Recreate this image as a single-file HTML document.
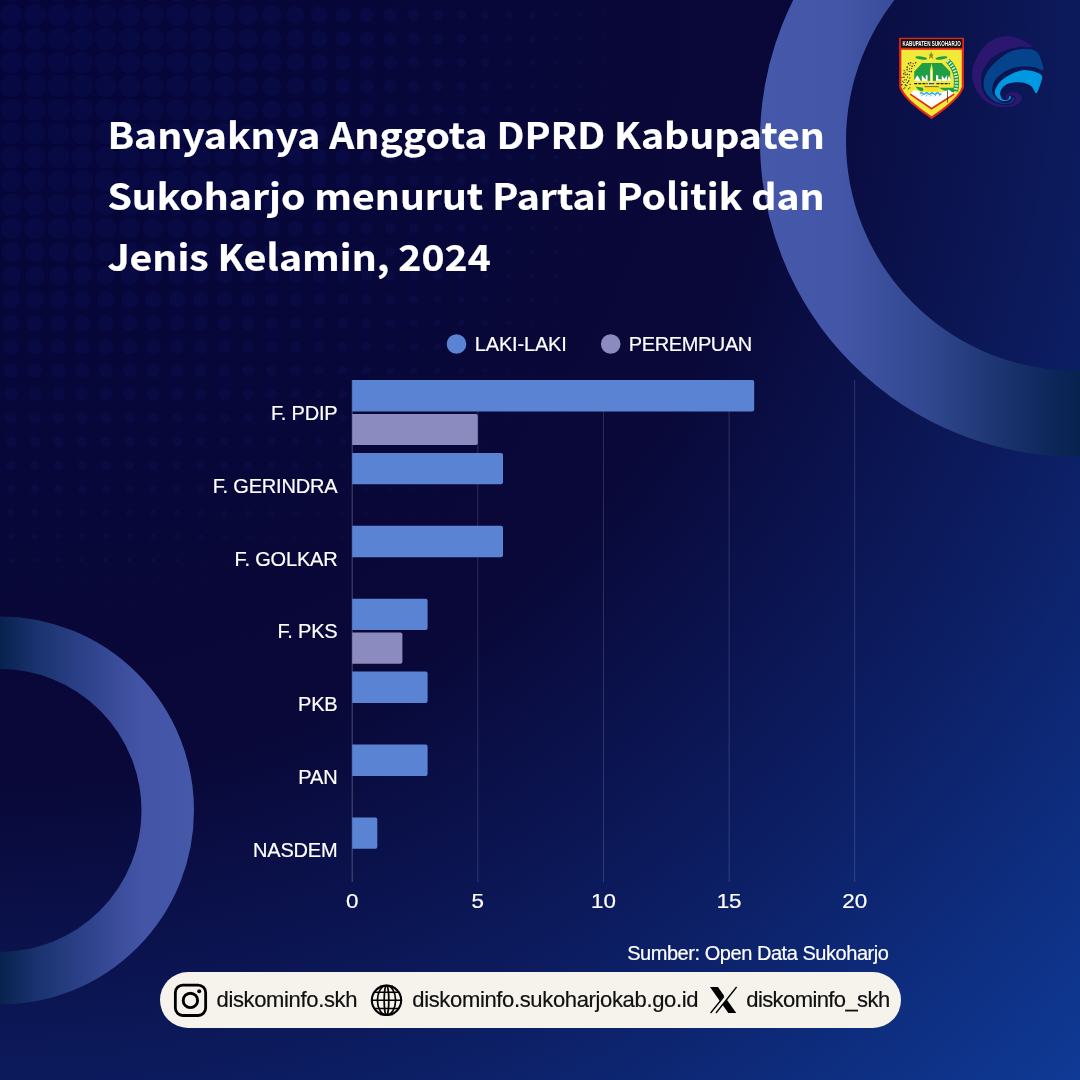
<!DOCTYPE html>
<html lang="id">
<head>
<meta charset="utf-8">
<title>Banyaknya Anggota DPRD Kabupaten Sukoharjo menurut Partai Politik dan Jenis Kelamin, 2024</title>
<style>
html,body{margin:0;padding:0;}
body{width:1080px;height:1080px;overflow:hidden;position:relative;background:#090838;font-family:"Liberation Sans",sans-serif;}
#bg{position:absolute;left:0;top:0;width:1080px;height:1080px;background:radial-gradient(circle 1527px at 0 0,#05053a 0%,#090838 51%,#0c1a5c 70.7%,#0f3a96 100%);}
svg{position:absolute;left:0;top:0;}
h1{position:absolute;left:107.4px;top:103.4px;transform:scaleY(0.931);transform-origin:0 0;margin:0;width:760px;color:#fff;font-family:"Noto Sans CJK JP","Liberation Sans",sans-serif;font-weight:700;-webkit-text-stroke:.25px #fff;font-size:39.15px;line-height:65.74px;letter-spacing:0;white-space:nowrap;}
.lab{font-family:"Liberation Sans",sans-serif;font-size:20px;fill:#fff;letter-spacing:-0.17px;stroke:#fff;stroke-width:.2px;}
.tick{font-family:"Liberation Sans",sans-serif;font-size:20px;fill:#fff;stroke:#fff;stroke-width:.2px;}
#src{position:absolute;right:191.5px;top:941px;color:#fff;font-size:20px;line-height:24px;letter-spacing:-0.45px;white-space:nowrap;-webkit-text-stroke:.2px #fff;}
.ft{position:absolute;top:987px;color:#111;font-size:22px;line-height:26px;white-space:nowrap;letter-spacing:-0.35px;-webkit-text-stroke:.2px #111;}
</style>
</head>
<body>
<div id="bg"></div>
<svg width="1080" height="1080" viewBox="0 0 1080 1080">
<defs>
<linearGradient id="gr1" gradientUnits="userSpaceOnUse" x1="760" y1="0" x2="1080" y2="0">
<stop offset="0" stop-color="#4558aa"/><stop offset=".25" stop-color="#4356a8"/><stop offset=".53" stop-color="#31478f"/><stop offset=".73" stop-color="#1e3673"/><stop offset=".92" stop-color="#0c2659"/><stop offset="1" stop-color="#08224f"/>
</linearGradient>
<linearGradient id="gr2" gradientUnits="userSpaceOnUse" x1="0" y1="0" x2="194" y2="0">
<stop offset="0" stop-color="#08224f"/><stop offset=".2" stop-color="#1b3370"/><stop offset=".46" stop-color="#2f438c"/><stop offset=".72" stop-color="#4354a6"/><stop offset="1" stop-color="#4558aa"/>
</linearGradient>
</defs>
<g fill="#3c64ff" fill-opacity=".05"><circle cx="11.1" cy="-8.7" r="11.0"/><circle cx="34.8" cy="-8.7" r="11.0"/><circle cx="58.5" cy="-8.7" r="11.0"/><circle cx="82.2" cy="-8.7" r="11.0"/><circle cx="105.9" cy="-8.7" r="11.0"/><circle cx="129.6" cy="-8.7" r="11.0"/><circle cx="153.3" cy="-8.7" r="11.0"/><circle cx="177.0" cy="-8.7" r="11.0"/><circle cx="200.7" cy="-8.7" r="11.0"/><circle cx="224.4" cy="-8.7" r="10.9"/><circle cx="248.1" cy="-8.7" r="10.3"/><circle cx="271.8" cy="-8.7" r="9.7"/><circle cx="295.5" cy="-8.7" r="9.1"/><circle cx="319.2" cy="-8.7" r="8.5"/><circle cx="342.9" cy="-8.7" r="7.9"/><circle cx="366.6" cy="-8.7" r="7.4"/><circle cx="390.3" cy="-8.7" r="6.8"/><circle cx="414.0" cy="-8.7" r="6.2"/><circle cx="437.7" cy="-8.7" r="5.6"/><circle cx="461.4" cy="-8.7" r="5.0"/><circle cx="485.1" cy="-8.7" r="4.4"/><circle cx="508.8" cy="-8.7" r="3.8"/><circle cx="532.5" cy="-8.7" r="3.2"/><circle cx="556.2" cy="-8.7" r="2.6"/><circle cx="579.9" cy="-8.7" r="2.0"/><circle cx="603.6" cy="-8.7" r="1.4"/><circle cx="627.3" cy="-8.7" r="0.8"/><circle cx="11.1" cy="15.0" r="11.0"/><circle cx="34.8" cy="15.0" r="11.0"/><circle cx="58.5" cy="15.0" r="11.0"/><circle cx="82.2" cy="15.0" r="11.0"/><circle cx="105.9" cy="15.0" r="11.0"/><circle cx="129.6" cy="15.0" r="11.0"/><circle cx="153.3" cy="15.0" r="11.0"/><circle cx="177.0" cy="15.0" r="11.0"/><circle cx="200.7" cy="15.0" r="11.0"/><circle cx="224.4" cy="15.0" r="10.9"/><circle cx="248.1" cy="15.0" r="10.3"/><circle cx="271.8" cy="15.0" r="9.7"/><circle cx="295.5" cy="15.0" r="9.1"/><circle cx="319.2" cy="15.0" r="8.5"/><circle cx="342.9" cy="15.0" r="7.9"/><circle cx="366.6" cy="15.0" r="7.4"/><circle cx="390.3" cy="15.0" r="6.8"/><circle cx="414.0" cy="15.0" r="6.2"/><circle cx="437.7" cy="15.0" r="5.6"/><circle cx="461.4" cy="15.0" r="5.0"/><circle cx="485.1" cy="15.0" r="4.4"/><circle cx="508.8" cy="15.0" r="3.8"/><circle cx="532.5" cy="15.0" r="3.2"/><circle cx="556.2" cy="15.0" r="2.6"/><circle cx="579.9" cy="15.0" r="2.0"/><circle cx="603.6" cy="15.0" r="1.4"/><circle cx="627.3" cy="15.0" r="0.8"/><circle cx="11.1" cy="38.7" r="11.0"/><circle cx="34.8" cy="38.7" r="11.0"/><circle cx="58.5" cy="38.7" r="11.0"/><circle cx="82.2" cy="38.7" r="11.0"/><circle cx="105.9" cy="38.7" r="11.0"/><circle cx="129.6" cy="38.7" r="11.0"/><circle cx="153.3" cy="38.7" r="11.0"/><circle cx="177.0" cy="38.7" r="11.0"/><circle cx="200.7" cy="38.7" r="11.0"/><circle cx="224.4" cy="38.7" r="10.9"/><circle cx="248.1" cy="38.7" r="10.3"/><circle cx="271.8" cy="38.7" r="9.7"/><circle cx="295.5" cy="38.7" r="9.1"/><circle cx="319.2" cy="38.7" r="8.5"/><circle cx="342.9" cy="38.7" r="7.9"/><circle cx="366.6" cy="38.7" r="7.3"/><circle cx="390.3" cy="38.7" r="6.7"/><circle cx="414.0" cy="38.7" r="6.2"/><circle cx="437.7" cy="38.7" r="5.6"/><circle cx="461.4" cy="38.7" r="5.0"/><circle cx="485.1" cy="38.7" r="4.4"/><circle cx="508.8" cy="38.7" r="3.8"/><circle cx="532.5" cy="38.7" r="3.2"/><circle cx="556.2" cy="38.7" r="2.6"/><circle cx="579.9" cy="38.7" r="2.0"/><circle cx="603.6" cy="38.7" r="1.4"/><circle cx="627.3" cy="38.7" r="0.8"/><circle cx="11.1" cy="62.4" r="11.0"/><circle cx="34.8" cy="62.4" r="11.0"/><circle cx="58.5" cy="62.4" r="11.0"/><circle cx="82.2" cy="62.4" r="11.0"/><circle cx="105.9" cy="62.4" r="11.0"/><circle cx="129.6" cy="62.4" r="11.0"/><circle cx="153.3" cy="62.4" r="11.0"/><circle cx="177.0" cy="62.4" r="11.0"/><circle cx="200.7" cy="62.4" r="11.0"/><circle cx="224.4" cy="62.4" r="10.8"/><circle cx="248.1" cy="62.4" r="10.3"/><circle cx="271.8" cy="62.4" r="9.7"/><circle cx="295.5" cy="62.4" r="9.1"/><circle cx="319.2" cy="62.4" r="8.5"/><circle cx="342.9" cy="62.4" r="7.9"/><circle cx="366.6" cy="62.4" r="7.3"/><circle cx="390.3" cy="62.4" r="6.7"/><circle cx="414.0" cy="62.4" r="6.1"/><circle cx="437.7" cy="62.4" r="5.5"/><circle cx="461.4" cy="62.4" r="4.9"/><circle cx="485.1" cy="62.4" r="4.3"/><circle cx="508.8" cy="62.4" r="3.8"/><circle cx="532.5" cy="62.4" r="3.2"/><circle cx="556.2" cy="62.4" r="2.6"/><circle cx="579.9" cy="62.4" r="2.0"/><circle cx="603.6" cy="62.4" r="1.4"/><circle cx="627.3" cy="62.4" r="0.8"/><circle cx="11.1" cy="86.1" r="11.0"/><circle cx="34.8" cy="86.1" r="11.0"/><circle cx="58.5" cy="86.1" r="11.0"/><circle cx="82.2" cy="86.1" r="11.0"/><circle cx="105.9" cy="86.1" r="11.0"/><circle cx="129.6" cy="86.1" r="11.0"/><circle cx="153.3" cy="86.1" r="11.0"/><circle cx="177.0" cy="86.1" r="11.0"/><circle cx="200.7" cy="86.1" r="11.0"/><circle cx="224.4" cy="86.1" r="10.7"/><circle cx="248.1" cy="86.1" r="10.2"/><circle cx="271.8" cy="86.1" r="9.6"/><circle cx="295.5" cy="86.1" r="9.0"/><circle cx="319.2" cy="86.1" r="8.4"/><circle cx="342.9" cy="86.1" r="7.8"/><circle cx="366.6" cy="86.1" r="7.3"/><circle cx="390.3" cy="86.1" r="6.7"/><circle cx="414.0" cy="86.1" r="6.1"/><circle cx="437.7" cy="86.1" r="5.5"/><circle cx="461.4" cy="86.1" r="4.9"/><circle cx="485.1" cy="86.1" r="4.3"/><circle cx="508.8" cy="86.1" r="3.7"/><circle cx="532.5" cy="86.1" r="3.1"/><circle cx="556.2" cy="86.1" r="2.5"/><circle cx="579.9" cy="86.1" r="1.9"/><circle cx="603.6" cy="86.1" r="1.3"/><circle cx="627.3" cy="86.1" r="0.8"/><circle cx="11.1" cy="109.8" r="11.0"/><circle cx="34.8" cy="109.8" r="11.0"/><circle cx="58.5" cy="109.8" r="11.0"/><circle cx="82.2" cy="109.8" r="11.0"/><circle cx="105.9" cy="109.8" r="11.0"/><circle cx="129.6" cy="109.8" r="11.0"/><circle cx="153.3" cy="109.8" r="11.0"/><circle cx="177.0" cy="109.8" r="11.0"/><circle cx="200.7" cy="109.8" r="11.0"/><circle cx="224.4" cy="109.8" r="10.6"/><circle cx="248.1" cy="109.8" r="10.0"/><circle cx="271.8" cy="109.8" r="9.5"/><circle cx="295.5" cy="109.8" r="8.9"/><circle cx="319.2" cy="109.8" r="8.3"/><circle cx="342.9" cy="109.8" r="7.8"/><circle cx="366.6" cy="109.8" r="7.2"/><circle cx="390.3" cy="109.8" r="6.6"/><circle cx="414.0" cy="109.8" r="6.0"/><circle cx="437.7" cy="109.8" r="5.4"/><circle cx="461.4" cy="109.8" r="4.8"/><circle cx="485.1" cy="109.8" r="4.3"/><circle cx="508.8" cy="109.8" r="3.7"/><circle cx="532.5" cy="109.8" r="3.1"/><circle cx="556.2" cy="109.8" r="2.5"/><circle cx="579.9" cy="109.8" r="1.9"/><circle cx="603.6" cy="109.8" r="1.3"/><circle cx="627.3" cy="109.8" r="0.7"/><circle cx="11.1" cy="133.5" r="11.0"/><circle cx="34.8" cy="133.5" r="11.0"/><circle cx="58.5" cy="133.5" r="11.0"/><circle cx="82.2" cy="133.5" r="11.0"/><circle cx="105.9" cy="133.5" r="11.0"/><circle cx="129.6" cy="133.5" r="11.0"/><circle cx="153.3" cy="133.5" r="11.0"/><circle cx="177.0" cy="133.5" r="11.0"/><circle cx="200.7" cy="133.5" r="10.9"/><circle cx="224.4" cy="133.5" r="10.4"/><circle cx="248.1" cy="133.5" r="9.8"/><circle cx="271.8" cy="133.5" r="9.3"/><circle cx="295.5" cy="133.5" r="8.7"/><circle cx="319.2" cy="133.5" r="8.2"/><circle cx="342.9" cy="133.5" r="7.6"/><circle cx="366.6" cy="133.5" r="7.1"/><circle cx="390.3" cy="133.5" r="6.5"/><circle cx="414.0" cy="133.5" r="5.9"/><circle cx="437.7" cy="133.5" r="5.3"/><circle cx="461.4" cy="133.5" r="4.8"/><circle cx="485.1" cy="133.5" r="4.2"/><circle cx="508.8" cy="133.5" r="3.6"/><circle cx="532.5" cy="133.5" r="3.0"/><circle cx="556.2" cy="133.5" r="2.4"/><circle cx="579.9" cy="133.5" r="1.8"/><circle cx="603.6" cy="133.5" r="1.3"/><circle cx="627.3" cy="133.5" r="0.7"/><circle cx="11.1" cy="157.2" r="11.0"/><circle cx="34.8" cy="157.2" r="11.0"/><circle cx="58.5" cy="157.2" r="11.0"/><circle cx="82.2" cy="157.2" r="11.0"/><circle cx="105.9" cy="157.2" r="11.0"/><circle cx="129.6" cy="157.2" r="11.0"/><circle cx="153.3" cy="157.2" r="11.0"/><circle cx="177.0" cy="157.2" r="11.0"/><circle cx="200.7" cy="157.2" r="10.6"/><circle cx="224.4" cy="157.2" r="10.1"/><circle cx="248.1" cy="157.2" r="9.6"/><circle cx="271.8" cy="157.2" r="9.1"/><circle cx="295.5" cy="157.2" r="8.6"/><circle cx="319.2" cy="157.2" r="8.0"/><circle cx="342.9" cy="157.2" r="7.5"/><circle cx="366.6" cy="157.2" r="6.9"/><circle cx="390.3" cy="157.2" r="6.4"/><circle cx="414.0" cy="157.2" r="5.8"/><circle cx="437.7" cy="157.2" r="5.2"/><circle cx="461.4" cy="157.2" r="4.7"/><circle cx="485.1" cy="157.2" r="4.1"/><circle cx="508.8" cy="157.2" r="3.5"/><circle cx="532.5" cy="157.2" r="2.9"/><circle cx="556.2" cy="157.2" r="2.4"/><circle cx="579.9" cy="157.2" r="1.8"/><circle cx="603.6" cy="157.2" r="1.2"/><circle cx="627.3" cy="157.2" r="0.6"/><circle cx="11.1" cy="180.9" r="11.0"/><circle cx="34.8" cy="180.9" r="11.0"/><circle cx="58.5" cy="180.9" r="11.0"/><circle cx="82.2" cy="180.9" r="11.0"/><circle cx="105.9" cy="180.9" r="11.0"/><circle cx="129.6" cy="180.9" r="11.0"/><circle cx="153.3" cy="180.9" r="11.0"/><circle cx="177.0" cy="180.9" r="10.6"/><circle cx="200.7" cy="180.9" r="10.2"/><circle cx="224.4" cy="180.9" r="9.8"/><circle cx="248.1" cy="180.9" r="9.3"/><circle cx="271.8" cy="180.9" r="8.8"/><circle cx="295.5" cy="180.9" r="8.3"/><circle cx="319.2" cy="180.9" r="7.8"/><circle cx="342.9" cy="180.9" r="7.3"/><circle cx="366.6" cy="180.9" r="6.8"/><circle cx="390.3" cy="180.9" r="6.2"/><circle cx="414.0" cy="180.9" r="5.7"/><circle cx="437.7" cy="180.9" r="5.1"/><circle cx="461.4" cy="180.9" r="4.5"/><circle cx="485.1" cy="180.9" r="4.0"/><circle cx="508.8" cy="180.9" r="3.4"/><circle cx="532.5" cy="180.9" r="2.8"/><circle cx="556.2" cy="180.9" r="2.3"/><circle cx="579.9" cy="180.9" r="1.7"/><circle cx="603.6" cy="180.9" r="1.1"/><circle cx="627.3" cy="180.9" r="0.5"/><circle cx="11.1" cy="204.6" r="11.0"/><circle cx="34.8" cy="204.6" r="11.0"/><circle cx="58.5" cy="204.6" r="11.0"/><circle cx="82.2" cy="204.6" r="11.0"/><circle cx="105.9" cy="204.6" r="11.0"/><circle cx="129.6" cy="204.6" r="10.8"/><circle cx="153.3" cy="204.6" r="10.5"/><circle cx="177.0" cy="204.6" r="10.2"/><circle cx="200.7" cy="204.6" r="9.8"/><circle cx="224.4" cy="204.6" r="9.4"/><circle cx="248.1" cy="204.6" r="9.0"/><circle cx="271.8" cy="204.6" r="8.6"/><circle cx="295.5" cy="204.6" r="8.1"/><circle cx="319.2" cy="204.6" r="7.6"/><circle cx="342.9" cy="204.6" r="7.1"/><circle cx="366.6" cy="204.6" r="6.5"/><circle cx="390.3" cy="204.6" r="6.0"/><circle cx="414.0" cy="204.6" r="5.5"/><circle cx="437.7" cy="204.6" r="4.9"/><circle cx="461.4" cy="204.6" r="4.4"/><circle cx="485.1" cy="204.6" r="3.8"/><circle cx="508.8" cy="204.6" r="3.3"/><circle cx="532.5" cy="204.6" r="2.7"/><circle cx="556.2" cy="204.6" r="2.1"/><circle cx="579.9" cy="204.6" r="1.6"/><circle cx="603.6" cy="204.6" r="1.0"/><circle cx="627.3" cy="204.6" r="0.4"/><circle cx="11.1" cy="228.3" r="10.8"/><circle cx="34.8" cy="228.3" r="10.8"/><circle cx="58.5" cy="228.3" r="10.8"/><circle cx="82.2" cy="228.3" r="10.7"/><circle cx="105.9" cy="228.3" r="10.5"/><circle cx="129.6" cy="228.3" r="10.3"/><circle cx="153.3" cy="228.3" r="10.1"/><circle cx="177.0" cy="228.3" r="9.8"/><circle cx="200.7" cy="228.3" r="9.4"/><circle cx="224.4" cy="228.3" r="9.1"/><circle cx="248.1" cy="228.3" r="8.7"/><circle cx="271.8" cy="228.3" r="8.2"/><circle cx="295.5" cy="228.3" r="7.8"/><circle cx="319.2" cy="228.3" r="7.3"/><circle cx="342.9" cy="228.3" r="6.8"/><circle cx="366.6" cy="228.3" r="6.3"/><circle cx="390.3" cy="228.3" r="5.8"/><circle cx="414.0" cy="228.3" r="5.3"/><circle cx="437.7" cy="228.3" r="4.7"/><circle cx="461.4" cy="228.3" r="4.2"/><circle cx="485.1" cy="228.3" r="3.7"/><circle cx="508.8" cy="228.3" r="3.1"/><circle cx="532.5" cy="228.3" r="2.6"/><circle cx="556.2" cy="228.3" r="2.0"/><circle cx="579.9" cy="228.3" r="1.4"/><circle cx="603.6" cy="228.3" r="0.9"/><circle cx="11.1" cy="252.0" r="10.2"/><circle cx="34.8" cy="252.0" r="10.2"/><circle cx="58.5" cy="252.0" r="10.2"/><circle cx="82.2" cy="252.0" r="10.1"/><circle cx="105.9" cy="252.0" r="10.0"/><circle cx="129.6" cy="252.0" r="9.8"/><circle cx="153.3" cy="252.0" r="9.6"/><circle cx="177.0" cy="252.0" r="9.3"/><circle cx="200.7" cy="252.0" r="9.0"/><circle cx="224.4" cy="252.0" r="8.6"/><circle cx="248.1" cy="252.0" r="8.3"/><circle cx="271.8" cy="252.0" r="7.9"/><circle cx="295.5" cy="252.0" r="7.4"/><circle cx="319.2" cy="252.0" r="7.0"/><circle cx="342.9" cy="252.0" r="6.5"/><circle cx="366.6" cy="252.0" r="6.1"/><circle cx="390.3" cy="252.0" r="5.6"/><circle cx="414.0" cy="252.0" r="5.0"/><circle cx="437.7" cy="252.0" r="4.5"/><circle cx="461.4" cy="252.0" r="4.0"/><circle cx="485.1" cy="252.0" r="3.5"/><circle cx="508.8" cy="252.0" r="2.9"/><circle cx="532.5" cy="252.0" r="2.4"/><circle cx="556.2" cy="252.0" r="1.8"/><circle cx="579.9" cy="252.0" r="1.3"/><circle cx="603.6" cy="252.0" r="0.7"/><circle cx="11.1" cy="275.7" r="9.6"/><circle cx="34.8" cy="275.7" r="9.6"/><circle cx="58.5" cy="275.7" r="9.6"/><circle cx="82.2" cy="275.7" r="9.5"/><circle cx="105.9" cy="275.7" r="9.4"/><circle cx="129.6" cy="275.7" r="9.2"/><circle cx="153.3" cy="275.7" r="9.0"/><circle cx="177.0" cy="275.7" r="8.8"/><circle cx="200.7" cy="275.7" r="8.5"/><circle cx="224.4" cy="275.7" r="8.2"/><circle cx="248.1" cy="275.7" r="7.9"/><circle cx="271.8" cy="275.7" r="7.5"/><circle cx="295.5" cy="275.7" r="7.1"/><circle cx="319.2" cy="275.7" r="6.7"/><circle cx="342.9" cy="275.7" r="6.2"/><circle cx="366.6" cy="275.7" r="5.8"/><circle cx="390.3" cy="275.7" r="5.3"/><circle cx="414.0" cy="275.7" r="4.8"/><circle cx="437.7" cy="275.7" r="4.3"/><circle cx="461.4" cy="275.7" r="3.8"/><circle cx="485.1" cy="275.7" r="3.3"/><circle cx="508.8" cy="275.7" r="2.7"/><circle cx="532.5" cy="275.7" r="2.2"/><circle cx="556.2" cy="275.7" r="1.7"/><circle cx="579.9" cy="275.7" r="1.1"/><circle cx="603.6" cy="275.7" r="0.6"/><circle cx="11.1" cy="299.4" r="9.0"/><circle cx="34.8" cy="299.4" r="9.0"/><circle cx="58.5" cy="299.4" r="9.0"/><circle cx="82.2" cy="299.4" r="8.9"/><circle cx="105.9" cy="299.4" r="8.8"/><circle cx="129.6" cy="299.4" r="8.7"/><circle cx="153.3" cy="299.4" r="8.5"/><circle cx="177.0" cy="299.4" r="8.3"/><circle cx="200.7" cy="299.4" r="8.0"/><circle cx="224.4" cy="299.4" r="7.8"/><circle cx="248.1" cy="299.4" r="7.4"/><circle cx="271.8" cy="299.4" r="7.1"/><circle cx="295.5" cy="299.4" r="6.7"/><circle cx="319.2" cy="299.4" r="6.3"/><circle cx="342.9" cy="299.4" r="5.9"/><circle cx="366.6" cy="299.4" r="5.4"/><circle cx="390.3" cy="299.4" r="5.0"/><circle cx="414.0" cy="299.4" r="4.5"/><circle cx="437.7" cy="299.4" r="4.0"/><circle cx="461.4" cy="299.4" r="3.5"/><circle cx="485.1" cy="299.4" r="3.0"/><circle cx="508.8" cy="299.4" r="2.5"/><circle cx="532.5" cy="299.4" r="2.0"/><circle cx="556.2" cy="299.4" r="1.5"/><circle cx="579.9" cy="299.4" r="0.9"/><circle cx="11.1" cy="323.1" r="8.4"/><circle cx="34.8" cy="323.1" r="8.4"/><circle cx="58.5" cy="323.1" r="8.4"/><circle cx="82.2" cy="323.1" r="8.3"/><circle cx="105.9" cy="323.1" r="8.3"/><circle cx="129.6" cy="323.1" r="8.1"/><circle cx="153.3" cy="323.1" r="8.0"/><circle cx="177.0" cy="323.1" r="7.8"/><circle cx="200.7" cy="323.1" r="7.5"/><circle cx="224.4" cy="323.1" r="7.3"/><circle cx="248.1" cy="323.1" r="7.0"/><circle cx="271.8" cy="323.1" r="6.6"/><circle cx="295.5" cy="323.1" r="6.3"/><circle cx="319.2" cy="323.1" r="5.9"/><circle cx="342.9" cy="323.1" r="5.5"/><circle cx="366.6" cy="323.1" r="5.1"/><circle cx="390.3" cy="323.1" r="4.7"/><circle cx="414.0" cy="323.1" r="4.2"/><circle cx="437.7" cy="323.1" r="3.7"/><circle cx="461.4" cy="323.1" r="3.3"/><circle cx="485.1" cy="323.1" r="2.8"/><circle cx="508.8" cy="323.1" r="2.3"/><circle cx="532.5" cy="323.1" r="1.8"/><circle cx="556.2" cy="323.1" r="1.2"/><circle cx="579.9" cy="323.1" r="0.7"/><circle cx="11.1" cy="346.8" r="7.9"/><circle cx="34.8" cy="346.8" r="7.8"/><circle cx="58.5" cy="346.8" r="7.8"/><circle cx="82.2" cy="346.8" r="7.8"/><circle cx="105.9" cy="346.8" r="7.7"/><circle cx="129.6" cy="346.8" r="7.6"/><circle cx="153.3" cy="346.8" r="7.4"/><circle cx="177.0" cy="346.8" r="7.2"/><circle cx="200.7" cy="346.8" r="7.0"/><circle cx="224.4" cy="346.8" r="6.8"/><circle cx="248.1" cy="346.8" r="6.5"/><circle cx="271.8" cy="346.8" r="6.2"/><circle cx="295.5" cy="346.8" r="5.9"/><circle cx="319.2" cy="346.8" r="5.5"/><circle cx="342.9" cy="346.8" r="5.1"/><circle cx="366.6" cy="346.8" r="4.7"/><circle cx="390.3" cy="346.8" r="4.3"/><circle cx="414.0" cy="346.8" r="3.9"/><circle cx="437.7" cy="346.8" r="3.4"/><circle cx="461.4" cy="346.8" r="3.0"/><circle cx="485.1" cy="346.8" r="2.5"/><circle cx="508.8" cy="346.8" r="2.0"/><circle cx="532.5" cy="346.8" r="1.5"/><circle cx="556.2" cy="346.8" r="1.0"/><circle cx="579.9" cy="346.8" r="0.5"/><circle cx="11.1" cy="370.5" r="7.3"/><circle cx="34.8" cy="370.5" r="7.2"/><circle cx="58.5" cy="370.5" r="7.2"/><circle cx="82.2" cy="370.5" r="7.2"/><circle cx="105.9" cy="370.5" r="7.1"/><circle cx="129.6" cy="370.5" r="7.0"/><circle cx="153.3" cy="370.5" r="6.9"/><circle cx="177.0" cy="370.5" r="6.7"/><circle cx="200.7" cy="370.5" r="6.5"/><circle cx="224.4" cy="370.5" r="6.3"/><circle cx="248.1" cy="370.5" r="6.0"/><circle cx="271.8" cy="370.5" r="5.7"/><circle cx="295.5" cy="370.5" r="5.4"/><circle cx="319.2" cy="370.5" r="5.1"/><circle cx="342.9" cy="370.5" r="4.7"/><circle cx="366.6" cy="370.5" r="4.3"/><circle cx="390.3" cy="370.5" r="3.9"/><circle cx="414.0" cy="370.5" r="3.5"/><circle cx="437.7" cy="370.5" r="3.1"/><circle cx="461.4" cy="370.5" r="2.6"/><circle cx="485.1" cy="370.5" r="2.2"/><circle cx="508.8" cy="370.5" r="1.7"/><circle cx="532.5" cy="370.5" r="1.2"/><circle cx="556.2" cy="370.5" r="0.7"/><circle cx="11.1" cy="394.2" r="6.7"/><circle cx="34.8" cy="394.2" r="6.7"/><circle cx="58.5" cy="394.2" r="6.6"/><circle cx="82.2" cy="394.2" r="6.6"/><circle cx="105.9" cy="394.2" r="6.5"/><circle cx="129.6" cy="394.2" r="6.4"/><circle cx="153.3" cy="394.2" r="6.3"/><circle cx="177.0" cy="394.2" r="6.1"/><circle cx="200.7" cy="394.2" r="6.0"/><circle cx="224.4" cy="394.2" r="5.8"/><circle cx="248.1" cy="394.2" r="5.5"/><circle cx="271.8" cy="394.2" r="5.2"/><circle cx="295.5" cy="394.2" r="5.0"/><circle cx="319.2" cy="394.2" r="4.6"/><circle cx="342.9" cy="394.2" r="4.3"/><circle cx="366.6" cy="394.2" r="3.9"/><circle cx="390.3" cy="394.2" r="3.6"/><circle cx="414.0" cy="394.2" r="3.2"/><circle cx="437.7" cy="394.2" r="2.7"/><circle cx="461.4" cy="394.2" r="2.3"/><circle cx="485.1" cy="394.2" r="1.9"/><circle cx="508.8" cy="394.2" r="1.4"/><circle cx="532.5" cy="394.2" r="0.9"/><circle cx="556.2" cy="394.2" r="0.5"/><circle cx="11.1" cy="417.9" r="6.1"/><circle cx="34.8" cy="417.9" r="6.1"/><circle cx="58.5" cy="417.9" r="6.0"/><circle cx="82.2" cy="417.9" r="6.0"/><circle cx="105.9" cy="417.9" r="5.9"/><circle cx="129.6" cy="417.9" r="5.8"/><circle cx="153.3" cy="417.9" r="5.7"/><circle cx="177.0" cy="417.9" r="5.6"/><circle cx="200.7" cy="417.9" r="5.4"/><circle cx="224.4" cy="417.9" r="5.2"/><circle cx="248.1" cy="417.9" r="5.0"/><circle cx="271.8" cy="417.9" r="4.8"/><circle cx="295.5" cy="417.9" r="4.5"/><circle cx="319.2" cy="417.9" r="4.2"/><circle cx="342.9" cy="417.9" r="3.9"/><circle cx="366.6" cy="417.9" r="3.5"/><circle cx="390.3" cy="417.9" r="3.2"/><circle cx="414.0" cy="417.9" r="2.8"/><circle cx="437.7" cy="417.9" r="2.4"/><circle cx="461.4" cy="417.9" r="2.0"/><circle cx="485.1" cy="417.9" r="1.5"/><circle cx="508.8" cy="417.9" r="1.1"/><circle cx="532.5" cy="417.9" r="0.6"/><circle cx="11.1" cy="441.6" r="5.5"/><circle cx="34.8" cy="441.6" r="5.5"/><circle cx="58.5" cy="441.6" r="5.4"/><circle cx="82.2" cy="441.6" r="5.4"/><circle cx="105.9" cy="441.6" r="5.3"/><circle cx="129.6" cy="441.6" r="5.3"/><circle cx="153.3" cy="441.6" r="5.2"/><circle cx="177.0" cy="441.6" r="5.0"/><circle cx="200.7" cy="441.6" r="4.9"/><circle cx="224.4" cy="441.6" r="4.7"/><circle cx="248.1" cy="441.6" r="4.5"/><circle cx="271.8" cy="441.6" r="4.2"/><circle cx="295.5" cy="441.6" r="4.0"/><circle cx="319.2" cy="441.6" r="3.7"/><circle cx="342.9" cy="441.6" r="3.4"/><circle cx="366.6" cy="441.6" r="3.1"/><circle cx="390.3" cy="441.6" r="2.7"/><circle cx="414.0" cy="441.6" r="2.4"/><circle cx="437.7" cy="441.6" r="2.0"/><circle cx="461.4" cy="441.6" r="1.6"/><circle cx="485.1" cy="441.6" r="1.2"/><circle cx="508.8" cy="441.6" r="0.7"/><circle cx="11.1" cy="465.3" r="4.9"/><circle cx="34.8" cy="465.3" r="4.9"/><circle cx="58.5" cy="465.3" r="4.8"/><circle cx="82.2" cy="465.3" r="4.8"/><circle cx="105.9" cy="465.3" r="4.8"/><circle cx="129.6" cy="465.3" r="4.7"/><circle cx="153.3" cy="465.3" r="4.6"/><circle cx="177.0" cy="465.3" r="4.5"/><circle cx="200.7" cy="465.3" r="4.3"/><circle cx="224.4" cy="465.3" r="4.1"/><circle cx="248.1" cy="465.3" r="4.0"/><circle cx="271.8" cy="465.3" r="3.7"/><circle cx="295.5" cy="465.3" r="3.5"/><circle cx="319.2" cy="465.3" r="3.2"/><circle cx="342.9" cy="465.3" r="2.9"/><circle cx="366.6" cy="465.3" r="2.6"/><circle cx="390.3" cy="465.3" r="2.3"/><circle cx="414.0" cy="465.3" r="1.9"/><circle cx="437.7" cy="465.3" r="1.6"/><circle cx="461.4" cy="465.3" r="1.2"/><circle cx="485.1" cy="465.3" r="0.8"/><circle cx="11.1" cy="489.0" r="4.3"/><circle cx="34.8" cy="489.0" r="4.3"/><circle cx="58.5" cy="489.0" r="4.3"/><circle cx="82.2" cy="489.0" r="4.2"/><circle cx="105.9" cy="489.0" r="4.2"/><circle cx="129.6" cy="489.0" r="4.1"/><circle cx="153.3" cy="489.0" r="4.0"/><circle cx="177.0" cy="489.0" r="3.9"/><circle cx="200.7" cy="489.0" r="3.8"/><circle cx="224.4" cy="489.0" r="3.6"/><circle cx="248.1" cy="489.0" r="3.4"/><circle cx="271.8" cy="489.0" r="3.2"/><circle cx="295.5" cy="489.0" r="3.0"/><circle cx="319.2" cy="489.0" r="2.7"/><circle cx="342.9" cy="489.0" r="2.5"/><circle cx="366.6" cy="489.0" r="2.2"/><circle cx="390.3" cy="489.0" r="1.8"/><circle cx="414.0" cy="489.0" r="1.5"/><circle cx="437.7" cy="489.0" r="1.2"/><circle cx="461.4" cy="489.0" r="0.8"/><circle cx="485.1" cy="489.0" r="0.4"/><circle cx="11.1" cy="512.7" r="3.7"/><circle cx="34.8" cy="512.7" r="3.7"/><circle cx="58.5" cy="512.7" r="3.7"/><circle cx="82.2" cy="512.7" r="3.6"/><circle cx="105.9" cy="512.7" r="3.6"/><circle cx="129.6" cy="512.7" r="3.5"/><circle cx="153.3" cy="512.7" r="3.4"/><circle cx="177.0" cy="512.7" r="3.3"/><circle cx="200.7" cy="512.7" r="3.2"/><circle cx="224.4" cy="512.7" r="3.0"/><circle cx="248.1" cy="512.7" r="2.9"/><circle cx="271.8" cy="512.7" r="2.7"/><circle cx="295.5" cy="512.7" r="2.5"/><circle cx="319.2" cy="512.7" r="2.2"/><circle cx="342.9" cy="512.7" r="2.0"/><circle cx="366.6" cy="512.7" r="1.7"/><circle cx="390.3" cy="512.7" r="1.4"/><circle cx="414.0" cy="512.7" r="1.1"/><circle cx="437.7" cy="512.7" r="0.7"/><circle cx="11.1" cy="536.4" r="3.1"/><circle cx="34.8" cy="536.4" r="3.1"/><circle cx="58.5" cy="536.4" r="3.1"/><circle cx="82.2" cy="536.4" r="3.0"/><circle cx="105.9" cy="536.4" r="3.0"/><circle cx="129.6" cy="536.4" r="2.9"/><circle cx="153.3" cy="536.4" r="2.9"/><circle cx="177.0" cy="536.4" r="2.8"/><circle cx="200.7" cy="536.4" r="2.6"/><circle cx="224.4" cy="536.4" r="2.5"/><circle cx="248.1" cy="536.4" r="2.3"/><circle cx="271.8" cy="536.4" r="2.1"/><circle cx="295.5" cy="536.4" r="1.9"/><circle cx="319.2" cy="536.4" r="1.7"/><circle cx="342.9" cy="536.4" r="1.5"/><circle cx="366.6" cy="536.4" r="1.2"/><circle cx="390.3" cy="536.4" r="0.9"/><circle cx="414.0" cy="536.4" r="0.6"/><circle cx="11.1" cy="560.1" r="2.5"/><circle cx="34.8" cy="560.1" r="2.5"/><circle cx="58.5" cy="560.1" r="2.5"/><circle cx="82.2" cy="560.1" r="2.4"/><circle cx="105.9" cy="560.1" r="2.4"/><circle cx="129.6" cy="560.1" r="2.3"/><circle cx="153.3" cy="560.1" r="2.3"/><circle cx="177.0" cy="560.1" r="2.2"/><circle cx="200.7" cy="560.1" r="2.1"/><circle cx="224.4" cy="560.1" r="1.9"/><circle cx="248.1" cy="560.1" r="1.8"/><circle cx="271.8" cy="560.1" r="1.6"/><circle cx="295.5" cy="560.1" r="1.4"/><circle cx="319.2" cy="560.1" r="1.2"/><circle cx="342.9" cy="560.1" r="1.0"/><circle cx="366.6" cy="560.1" r="0.7"/><circle cx="390.3" cy="560.1" r="0.4"/><circle cx="11.1" cy="583.8" r="1.9"/><circle cx="34.8" cy="583.8" r="1.9"/><circle cx="58.5" cy="583.8" r="1.9"/><circle cx="82.2" cy="583.8" r="1.8"/><circle cx="105.9" cy="583.8" r="1.8"/><circle cx="129.6" cy="583.8" r="1.8"/><circle cx="153.3" cy="583.8" r="1.7"/><circle cx="177.0" cy="583.8" r="1.6"/><circle cx="200.7" cy="583.8" r="1.5"/><circle cx="224.4" cy="583.8" r="1.4"/><circle cx="248.1" cy="583.8" r="1.2"/><circle cx="271.8" cy="583.8" r="1.1"/><circle cx="295.5" cy="583.8" r="0.9"/><circle cx="319.2" cy="583.8" r="0.7"/><circle cx="342.9" cy="583.8" r="0.4"/><circle cx="11.1" cy="607.5" r="1.3"/><circle cx="34.8" cy="607.5" r="1.3"/><circle cx="58.5" cy="607.5" r="1.3"/><circle cx="82.2" cy="607.5" r="1.3"/><circle cx="105.9" cy="607.5" r="1.2"/><circle cx="129.6" cy="607.5" r="1.2"/><circle cx="153.3" cy="607.5" r="1.1"/><circle cx="177.0" cy="607.5" r="1.0"/><circle cx="200.7" cy="607.5" r="0.9"/><circle cx="224.4" cy="607.5" r="0.8"/><circle cx="248.1" cy="607.5" r="0.7"/><circle cx="271.8" cy="607.5" r="0.5"/><circle cx="11.1" cy="631.2" r="0.7"/><circle cx="34.8" cy="631.2" r="0.7"/><circle cx="58.5" cy="631.2" r="0.7"/><circle cx="82.2" cy="631.2" r="0.7"/><circle cx="105.9" cy="631.2" r="0.6"/><circle cx="129.6" cy="631.2" r="0.6"/><circle cx="153.3" cy="631.2" r="0.5"/><circle cx="177.0" cy="631.2" r="0.4"/></g>
<circle cx="1075.5" cy="141" r="272.5" fill="none" stroke="url(#gr1)" stroke-width="86"/>
<circle cx="0" cy="810.5" r="167.75" fill="none" stroke="url(#gr2)" stroke-width="52.5"/>
<g id="grid"><rect x="351.7" y="380" width="1" height="502" fill="#fff" fill-opacity=".26"/><rect x="477.3" y="380" width="1" height="502" fill="#fff" fill-opacity=".15"/><rect x="603.0" y="380" width="1" height="502" fill="#fff" fill-opacity=".15"/><rect x="728.6" y="380" width="1" height="502" fill="#fff" fill-opacity=".15"/><rect x="854.2" y="380" width="1" height="502" fill="#fff" fill-opacity=".15"/></g>
<g id="bars"><path d="M352.2,380.0h400.0a2,2 0 0 1 2,2v27.4a2,2 0 0 1 -2,2h-400.0z" fill="#5a83d4"/><path d="M352.2,413.9h123.6a2,2 0 0 1 2,2v27.2a2,2 0 0 1 -2,2h-123.6z" fill="#8c8bbf"/><path d="M352.2,452.9h148.8a2,2 0 0 1 2,2v27.4a2,2 0 0 1 -2,2h-148.8z" fill="#5a83d4"/><path d="M352.2,525.8h148.8a2,2 0 0 1 2,2v27.4a2,2 0 0 1 -2,2h-148.8z" fill="#5a83d4"/><path d="M352.2,598.7h73.4a2,2 0 0 1 2,2v27.4a2,2 0 0 1 -2,2h-73.4z" fill="#5a83d4"/><path d="M352.2,632.6h48.2a2,2 0 0 1 2,2v27.2a2,2 0 0 1 -2,2h-48.2z" fill="#8c8bbf"/><path d="M352.2,671.6h73.4a2,2 0 0 1 2,2v27.4a2,2 0 0 1 -2,2h-73.4z" fill="#5a83d4"/><path d="M352.2,744.5h73.4a2,2 0 0 1 2,2v27.4a2,2 0 0 1 -2,2h-73.4z" fill="#5a83d4"/><path d="M352.2,817.4h23.1a2,2 0 0 1 2,2v27.4a2,2 0 0 1 -2,2h-23.1z" fill="#5a83d4"/></g>
<g class="lab"><text x="337.5" y="419.6" text-anchor="end">F. PDIP</text><text x="337.5" y="492.5" text-anchor="end">F. GERINDRA</text><text x="337.5" y="565.5" text-anchor="end">F. GOLKAR</text><text x="337.5" y="638.4" text-anchor="end">F. PKS</text><text x="337.5" y="711.3" text-anchor="end">PKB</text><text x="337.5" y="784.2" text-anchor="end">PAN</text><text x="337.5" y="857.1" text-anchor="end">NASDEM</text></g>
<g class="tick"><text transform="translate(352.2,907.5) scale(1.12,1)" text-anchor="middle">0</text><text transform="translate(477.8,907.5) scale(1.12,1)" text-anchor="middle">5</text><text transform="translate(603.5,907.5) scale(1.12,1)" text-anchor="middle">10</text><text transform="translate(729.1,907.5) scale(1.12,1)" text-anchor="middle">15</text><text transform="translate(854.7,907.5) scale(1.12,1)" text-anchor="middle">20</text></g>
<circle cx="456.5" cy="344" r="9.8" fill="#5a83d4"/>
<circle cx="610.7" cy="344" r="9.8" fill="#8c8bbf"/>
<g class="lab"><text x="474.8" y="351">LAKI-LAKI</text><text x="628.8" y="351" style="letter-spacing:-0.4px">PEREMPUAN</text></g>
<g transform="translate(892,30) scale(.08889)"><path d="M80,88H810V640Q772,780 445,1000Q118,780 80,640Z" fill="#e3261d"/><path d="M105,222H785V638Q748,768 445,970Q142,768 105,638Z" fill="#f2e93a"/><rect x="100" y="103" width="690" height="96" fill="#111"/><text x="446" y="185" text-anchor="middle" textLength="655" lengthAdjust="spacingAndGlyphs" font-family="Liberation Sans,sans-serif" font-weight="700" font-size="82" fill="#fff">KABUPATEN SUKOHARJO</text><g fill="#2a2a18"><circle cx="210" cy="368" r="9"/><circle cx="202" cy="394" r="7"/><circle cx="172" cy="420" r="7"/><circle cx="170" cy="447" r="9"/><circle cx="147" cy="475" r="7"/><circle cx="151" cy="503" r="7"/><circle cx="134" cy="531" r="9"/><circle cx="144" cy="560" r="7"/><circle cx="133" cy="590" r="7"/><circle cx="150" cy="620" r="9"/><circle cx="145" cy="651" r="7"/><circle cx="238" cy="378" r="7"/><circle cx="227" cy="407" r="9"/><circle cx="197" cy="436" r="7"/><circle cx="194" cy="466" r="7"/><circle cx="171" cy="497" r="9"/><circle cx="176" cy="529" r="7"/><circle cx="160" cy="561" r="7"/><circle cx="173" cy="593" r="9"/><circle cx="165" cy="627" r="7"/><circle cx="185" cy="661" r="7"/><circle cx="266" cy="368" r="9"/><circle cx="253" cy="400" r="7"/><circle cx="221" cy="434" r="7"/><circle cx="217" cy="468" r="9"/><circle cx="195" cy="503" r="7"/><circle cx="201" cy="539" r="7"/><circle cx="188" cy="575" r="9"/><circle cx="204" cy="613" r="7"/><circle cx="201" cy="651" r="7"/><circle cx="186" cy="378" r="9"/><circle cx="170" cy="415" r="7"/><circle cx="136" cy="453" r="7"/><circle cx="132" cy="493" r="9"/><circle cx="111" cy="533" r="7"/><circle cx="120" cy="575" r="7"/><circle cx="111" cy="617" r="9"/><circle cx="133" cy="661" r="7"/></g><path d="M625,345Q760,470 715,690" fill="none" stroke="#1f9e46" stroke-width="58"/><path d="M625,345Q760,470 715,690" fill="none" stroke="#fff" stroke-width="40" stroke-dasharray="14 20"/><ellipse cx="330" cy="315" rx="68" ry="17" fill="#1f9e46" transform="rotate(8 330 315)"/><ellipse cx="555" cy="315" rx="68" ry="17" fill="#1f9e46" transform="rotate(-8 555 315)"/><path d="M440,240L465,330L410,275H470L415,330Z" fill="#8a8420"/><path d="M250,585V470L340,372H560L655,470V585Z" fill="#1f9e46"/><path d="M245,575L285,508L325,575ZM335,575V508L380,560V508H400V575ZM495,575V508H520V555H555V575ZM560,575V508L590,548L620,508V575ZM622,575L642,508L662,575Z" fill="#fff"/><rect x="245" y="572" width="415" height="50" fill="#f2e93a"/><path d="M250,603H400M500,603H650" stroke="#222" stroke-width="16" stroke-dasharray="34 12" fill="none"/><path d="M445,378L460,450V600H428V450Z" fill="#f6ee5a"/><rect x="438" y="455" width="12" height="130" fill="#fff"/><rect x="405" y="590" width="80" height="28" fill="#ddd"/><rect x="415" y="598" width="60" height="12" fill="#333"/><path d="M265,635Q300,690 350,690L350,650Z" fill="#1f9e46"/><path d="M530,650Q600,700 700,700L690,650Z" fill="#1f9e46"/><rect x="365" y="632" width="160" height="12" fill="#7a5a20"/><ellipse cx="442" cy="668" rx="85" ry="24" fill="#f2e21a"/><path d="M205,720L250,672L330,700H560L640,672L695,715L445,870Z" fill="#fff"/><path d="M315,715q15,-18 30,0t30,0t30,0t30,0t30,0t30,0t30,0t30,0" fill="none" stroke="#2aa8f0" stroke-width="16"/><path d="M330,745l20,-20m30,22l20,-22m30,22l20,-22m30,22l20,-22m30,20l18,-20" fill="none" stroke="#2aa8f0" stroke-width="10"/><path d="M205,722L445,885L700,722" fill="none" stroke="#e3261d" stroke-width="18"/><rect x="620" y="680" width="8" height="135" fill="#222"/></g><g transform="translate(965,28) scale(.08148)"><path d="M830,225C830,207 705,146 650,125C595,104 553,96 500,100C447,104 383,117 330,150C277,183 220,238 180,300C140,362 102,453 90,520C78,587 92,645 110,700C128,755 163,809 200,850C237,891 285,925 330,945C375,965 423,970 470,972C517,974 573,969 610,955C647,941 677,911 690,890C703,869 702,847 690,830C678,813 645,796 620,790C595,784 560,787 540,795C520,803 512,818 500,840C488,862 498,920 470,930C442,940 370,922 330,900C290,878 252,842 230,800C208,758 197,700 197,650C197,600 208,547 230,500C252,453 288,407 330,370C372,333 427,303 480,280C533,257 592,241 650,232C708,223 830,243 830,225Z" fill="#2b1670"/><path d="M965,525C980,507 954,421 940,380C926,339 903,301 880,280C857,259 830,260 800,255C770,250 740,246 700,250C660,254 607,260 560,280C513,300 465,333 420,370C375,407 322,455 290,500C258,545 233,593 225,640C217,687 224,740 240,780C256,820 287,854 320,880C353,906 400,927 440,935C480,943 531,939 560,930C589,921 607,896 612,880C617,864 599,832 590,835C581,838 582,888 560,900C538,912 492,920 460,910C428,900 390,865 370,840C350,815 340,792 340,760C340,728 352,682 370,650C388,618 418,593 450,570C482,547 518,525 560,510C602,495 652,484 700,480C748,476 806,480 850,488C894,496 950,543 965,525Z" fill="#05448c" stroke="#0b1450" stroke-width="14"/><path d="M955,592C950,566 926,558 900,545C874,532 833,520 800,515C767,510 740,504 700,512C660,520 603,539 560,560C517,581 472,610 440,640C408,670 383,712 370,740C357,768 355,788 360,810C365,832 382,854 400,870C418,886 447,902 470,905C493,908 523,899 540,890C557,881 572,861 572,850C572,839 548,819 540,822C532,825 537,862 525,870C513,878 484,878 470,870C456,862 443,838 440,820C437,802 438,780 450,760C462,740 485,714 510,700C535,686 565,678 600,675C635,672 685,672 720,680C755,688 784,698 810,720C836,742 855,815 875,812C895,809 917,737 930,700C943,663 960,618 955,592Z" fill="#0098e0" stroke="#0b1450" stroke-width="14"/></g>
<rect x="160" y="972" width="741" height="56" rx="28" fill="#f6f2ec"/>
<g fill="none" stroke="#000"><rect x="175.35" y="985.1" width="30.3" height="30.4" rx="7.4" stroke-width="2.8"/><circle cx="190.4" cy="1000.4" r="7.2" stroke-width="2.9"/></g><circle cx="199.2" cy="991.3" r="2"/><g fill="none" stroke="#000" stroke-width="1.7"><circle cx="386.5" cy="1000.3" r="14.7" stroke-width="2.1"/><ellipse cx="386.5" cy="1000.3" rx="9.1" ry="14.8"/><ellipse cx="386.5" cy="1000.3" rx="2.3" ry="14.8"/><path d="M371.7,1000.3H401.3M374,992.3H399M374,1008.5H399" stroke-width="1.5"/><path d="M380,986.2H393M380,1014.4H393" stroke-width="1.6"/></g><path d="M710,987.1H717.9L736.25,1012.9H728.3Z" fill="#000"/><path d="M733.9,987.1L713.3,1012.9" stroke="#f6f2ec" stroke-width="4.8" fill="none"/><path d="M736.6,987L716,1013M723.9,996.5L710.6,1013" stroke="#000" stroke-width="1.35" fill="none"/>
</svg>
<h1>Banyaknya Anggota DPRD Kabupaten<br>Sukoharjo menurut Partai Politik dan<br>Jenis Kelamin, 2024</h1>
<div id="src">Sumber: Open Data Sukoharjo</div>
<div class="ft" style="left:216.5px">diskominfo.skh</div>
<div class="ft" style="left:412.3px">diskominfo.sukoharjokab.go.id</div>
<div class="ft" style="left:746.3px;letter-spacing:-0.6px">diskominfo_skh</div>
</body>
</html>
